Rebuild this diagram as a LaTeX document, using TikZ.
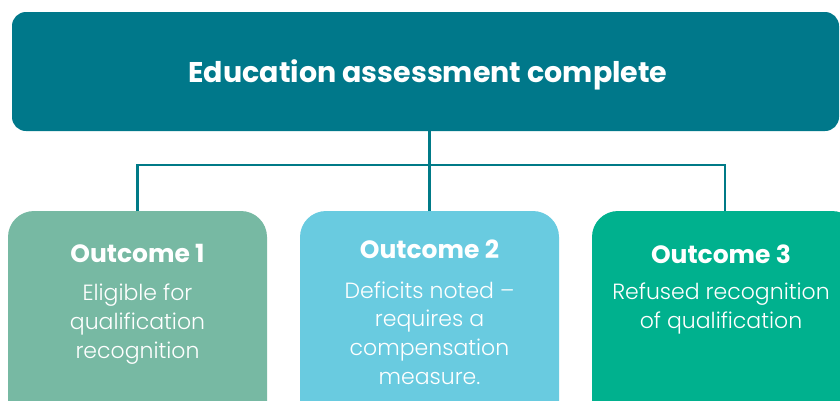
\documentclass[tikz,border=0pt]{standalone}
\usepackage{fontspec}
\setmainfont{Poppins}
\newfontfamily\lightfont{Poppins Light}
\definecolor{headteal}{HTML}{00788A}
\definecolor{linkteal}{HTML}{007A87}
\definecolor{sage}{HTML}{77B9A3}
\definecolor{sky}{HTML}{69CBE0}
\definecolor{jade}{HTML}{00B18E}
\tikzset{
  headbox/.style={fill=headteal, rounded corners=14pt, minimum width=827pt, minimum height=119pt, inner sep=0pt},
  outbox/.style={rounded corners=26pt, minimum width=259pt, minimum height=230pt, inner sep=0pt},
  headtext/.style={text=white, font=\bfseries\fontsize{28.5}{34}\selectfont},
  outtitle/.style={text=white, font=\bfseries\fontsize{25}{30}\selectfont},
  outbody/.style={text=white, align=center, font=\lightfont\fontsize{22}{28.8}\selectfont},
  link/.style={draw=linkteal, line width=2.2pt}
}
\begin{document}
\begin{tikzpicture}[x=1pt,y=-1pt]
\useasboundingbox (0,0) rectangle (840,400);
\clip (0,0) rectangle (840,400);
% top heading box
\node[headbox] (head) at (425.5,71.5) {};
\node[headtext] (headlbl) at (428,75) {Education assessment complete};
% outcome boxes
\node[outbox, fill=sage] (o1) at (137.5,326) {};
\node[outbox, fill=sky] (o2) at (429.5,326) {};
\node[outbox, fill=jade, minimum width=266pt] (o3) at (725,326) {};
% texts
\node[outtitle] (t1) at (137.5,253.5) {Outcome 1};
\node[outbody] (b1) at (137.5,324) {Eligible for\\qualification\\recognition};
\node[outtitle] (t2) at (429.5,249) {Outcome 2};
\node[outbody] (b2) at (429.5,333) {Deficits noted –\\requires a\\compensation\\measure.};
\node[outtitle] (t3) at (721,254) {Outcome 3};
\node[outbody] (b3) at (721,308.5) {Refused recognition\\of qualification};
% connectors
\coordinate (bus) at (429.5,165);
\draw[link] (o2.north |- head.south) -- (o2.north);
\draw[link] (o1.north) |- (bus) -| (o3.north);
\end{tikzpicture}
\end{document}
